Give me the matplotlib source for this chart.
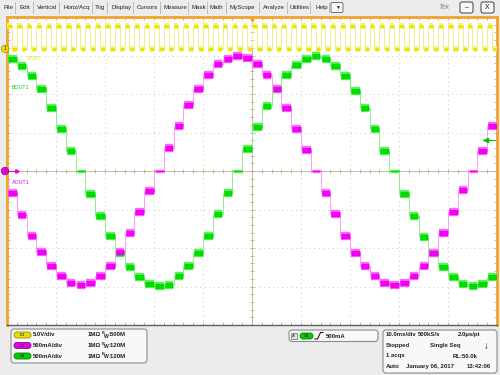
import numpy as np
import matplotlib.pyplot as plt
from matplotlib.patches import FancyBboxPatch

plt.rcParams['font.family'] = ['Liberation Sans', 'DejaVu Sans']

"""
Tek scope screen: STEP clock on CH1 and the two stepped sine outputs
(AOUT1 on CH2, BOUT1 on CH4), single sequence, 10 ms/div
"""

# scope settings
ms_per_div = 10.0
v_per_div = 5.0
ma_per_div = 500.0
ch1_offset_div = 3.17   # CH1 ground marker sits above the centre line
trig_level_div = 0.8
t_first_ms = -50.0
step_ms = 2.0

# CH1 STEP clock in volts, one entry per half step (high, low, ...)
step_v = [3, 0, 3, 0, 3, 0, 3, 0, 3, 0, 3, 0, 3, 0, 3, 0, 3, 0, 3, 0,
          3, 0, 3, 0, 3, 0, 3, 0, 3, 0, 3, 0, 3, 0, 3, 0, 3, 0, 3, 0,
          3, 0, 3, 0, 3, 0, 3, 0, 3, 0, 3, 0, 3, 0, 3, 0, 3, 0, 3, 0,
          3, 0, 3, 0, 3, 0, 3, 0, 3, 0, 3, 0, 3, 0, 3, 0, 3, 0, 3, 0,
          3, 0, 3, 0, 3, 0, 3, 0, 3, 0, 3, 0, 3, 0, 3, 0, 3, 0, 3, 0]

# CH4 BOUT1 in mA, one entry per 2 ms step
bout1_ma = [1450, 1370, 1240, 1070, 820, 550, 260, 0, -300, -580,
            -850, -1070, -1250, -1380, -1470, -1490, -1480, -1370, -1240, -1070,
            -840, -560, -280, 0, 290, 570, 840, 1060, 1250, 1380,
            1460, 1490, 1460, 1360, 1240, 1040, 820, 540, 260, 0,
            -300, -580, -860, -1060, -1250, -1380, -1470, -1490, -1470, -1380]

# CH2 AOUT1 in mA, one entry per 2 ms step
aout1_ma = [-290, -570, -840, -1050, -1240, -1360, -1460, -1480, -1460, -1360,
            -1230, -1050, -810, -530, -260, 0, 300, 580, 860, 1070,
            1250, 1390, 1460, 1500, 1470, 1390, 1250, 1060, 820, 540,
            270, 0, -290, -560, -850, -1060, -1230, -1370, -1460, -1480,
            -1460, -1360, -1230, -1060, -810, -530, -250, 0, 260, 580]

menu_items = ['File', 'Edit', 'Vertical', 'Horiz/Acq', 'Trig', 'Display', 'Cursors',
              'Measure', 'Mask', 'Math', 'MyScope', 'Analyze', 'Utilities', 'Help']
menu_x = [4, 20, 37, 63, 95, 111, 137, 164, 192, 210, 230, 263, 290, 315]


def draw_steps(ax, values, width_ms, scale, offset, core, halo, edge, thick, thin):
    levels = np.asarray(values, dtype=float) / scale + offset
    x = (t_first_ms + width_ms * np.arange(len(levels) + 1)) / ms_per_div
    y = np.append(levels, levels[-1])
    ax.step(x, y, where='post', color=edge, lw=0.7, zorder=3)

    lws = [thin if v == 0 else thick for v in values]
    pad = 0.1 * (x[1] - x[0])
    ax.hlines(levels, x[:-1] + pad, x[1:] - pad * 0.3, colors=halo,
              linewidths=[w + 1.0 for w in lws], zorder=4)
    ax.hlines(levels, x[:-1] + pad, x[1:] - pad * 0.3, colors=core,
              linewidths=[max(w - 1.2, 0.8) for w in lws], zorder=5)


fig = plt.figure(figsize=(5, 3.75), dpi=100, facecolor='#ececec')

# ---- window chrome, drawn in pixel coordinates
bg = fig.add_axes([0, 0, 1, 1], zorder=0)
bg.set_xlim(0, 500)
bg.set_ylim(375, 0)
bg.axis('off')

ui_font = dict(fontsize=4.4, color='#202020', va='center')
for name, x in zip(menu_items, menu_x):
    bg.text(x, 7.5, name, **ui_font)
for sx in [15, 33, 59, 92, 107, 133, 160, 188, 207, 226, 259, 287, 310, 329]:
    bg.plot([sx, sx], [2, 13], color='#b4b4b4', lw=0.6)
bg.add_patch(FancyBboxPatch((331, 2.5), 12, 10, boxstyle='round,pad=0,rounding_size=1.5',
                            fc='#f6f6f6', ec='#606060', lw=0.6))
bg.text(337, 7.8, '\u25bc', fontsize=3.5, ha='center', va='center', color='#202020')
bg.text(438, 7.5, 'Tek', fontsize=5, color='#8a8a8a', va='center', style='italic')
for bx, label in [(460, '\u2013'), (481, 'X')]:
    bg.add_patch(FancyBboxPatch((bx, 2), 13, 11, boxstyle='round,pad=0,rounding_size=2',
                                fc='#f8f8f8', ec='#404040', lw=0.7))
    bg.text(bx + 6.5, 7.8, label, fontsize=5, ha='center', va='center', color='#202020')

# channel readout box
box_kw = dict(boxstyle='round,pad=0,rounding_size=3', fc='#f8f8f8', ec='#8c8c8c', lw=0.8)
bg.add_patch(FancyBboxPatch((11, 329), 136, 34, **box_kw))
bg.add_patch(FancyBboxPatch((289, 330), 89, 11.5, **box_kw))
bg.add_patch(FancyBboxPatch((383, 330), 114, 43, **box_kw))

rows = [('C1', '#e6e000', '#9a9000', '5.0V/div', ':500M', 335),
        ('C2', '#e000e0', '#900090', '500mA/div', ':120M', 345.5),
        ('C4', '#00d000', '#008000', '500mA/div', ':120M', 356)]
bold = dict(fontsize=4.3, color='#202020', va='center', fontweight='bold')
for tag, fc, ec, scale_txt, bw_txt, ry in rows:
    bg.add_patch(FancyBboxPatch((14, ry - 3), 17, 6, boxstyle='round,pad=0,rounding_size=3',
                                fc=fc, ec=ec, lw=0.6))
    bg.text(22.5, ry + 0.2, tag, fontsize=3, ha='center', va='center', color='#303030',
            fontweight='bold')
    bg.text(33, ry, scale_txt, **bold)
    bg.text(87.5, ry, '1M\u03a9', **bold)
    bg.text(101.5, ry - 1.8, 'B', fontsize=2.8, color='#202020', va='center', fontweight='bold')
    bg.text(103.5, ry + 1.0, 'W', fontsize=3.6, color='#202020', va='center', fontweight='bold')
    bg.text(108.5, ry, bw_txt, **bold)

# trigger box
bg.add_patch(FancyBboxPatch((291, 332.5), 6, 6.5, boxstyle='square,pad=0',
                            fc='#e0e0e0', ec='#707070', lw=0.5))
bg.text(294, 336, "A'", fontsize=3, ha='center', va='center', color='#202020')
bg.add_patch(FancyBboxPatch((300, 333), 13, 6, boxstyle='round,pad=0,rounding_size=3',
                            fc='#00d000', ec='#008000', lw=0.6))
bg.text(306.5, 336.2, 'C4', fontsize=3, ha='center', va='center', color='#303030',
        fontweight='bold')
bg.plot([315, 317.5, 320.5, 323], [339, 339, 332.5, 332.5], color='#202020', lw=0.8)
bg.text(326, 336, '500mA', **bold)

# timebase / acquisition box
acq_rows = [(334.5, [(386, '10.0ms/div'), (418, '500kS/s'), (458, '2.0\u00b5s/pt')]),
            (345.5, [(386, 'Stopped'), (430, 'Single Seq')]),
            (356, [(386, '1 acqs'), (453, 'RL:50.0k')]),
            (366.5, [(386, 'Auto'), (406, 'January 06, 2017'), (467, '13:42:06')])]
for ry, items in acq_rows:
    for tx, txt in items:
        bg.text(tx, ry, txt, **bold)
bg.text(486, 346, '\u2193', fontsize=7, ha='center', va='center', color='#202020',
        fontweight='bold')

# ---- graticule
ax = fig.add_axes([7 / 500, 1 - 325 / 375, 490 / 500, 308 / 375], zorder=1)
ax.set_facecolor('white')
ax.set_xlim(-5, 5)
ax.set_ylim(-4, 4)
ax.set_xticks(np.arange(-5, 6))
ax.set_yticks(np.arange(-4, 5))
ax.set_xticks(np.arange(-5, 5.01, 0.2), minor=True)
ax.set_yticks(np.arange(-4, 4.01, 0.2), minor=True)
ax.tick_params(which='both', direction='in', length=2.5, width=0.5, color='#9a9a9a',
               labelleft=False, labelbottom=False, top=True, right=True)
ax.grid(True, color='#b4b4b4', lw=0.6, linestyle=(0, (1, 4.5)))
for side in ['left', 'top', 'right']:
    ax.spines[side].set_color('#f2a22a')
    ax.spines[side].set_linewidth(2.0)
ax.spines['bottom'].set_color('#606060')
ax.spines['bottom'].set_linewidth(1.0)

# centre crosshair with its small ticks
ax.axhline(0, color='#c9bc9c', lw=0.7, zorder=1)
ax.axvline(0, color='#c9bc9c', lw=0.7, zorder=1)
minor_x = np.arange(-5, 5.01, 0.2)
minor_y = np.arange(-4, 4.01, 0.2)
ax.plot(minor_x, np.zeros_like(minor_x), ls='none', marker='|', ms=2.5, mew=0.5,
        color='#b0a27e', zorder=1)
ax.plot(np.zeros_like(minor_y), minor_y, ls='none', marker='_', ms=2.5, mew=0.5,
        color='#b0a27e', zorder=1)

# ---- traces
draw_steps(ax, step_v, step_ms / 2, v_per_div, ch1_offset_div,
           '#e8e400', '#f6f27a', '#f2ee8a', 3.2, 3.2)
draw_steps(ax, bout1_ma, step_ms, ma_per_div, 0.0,
           '#00dc00', '#5cf05c', '#8cf08c', 5.0, 1.4)
draw_steps(ax, aout1_ma, step_ms, ma_per_div, 0.0,
           '#f000f0', '#ff66ff', '#ff99ff', 5.0, 1.4)

# trace labels
ax.text(-4.59, 2.91, 'STEP', fontsize=3.8, color='#e6e000', va='center', zorder=6)
ax.text(-4.9, 2.16, 'BOUT1', fontsize=3.8, color='#10c010', va='center', zorder=6)
ax.text(-4.9, -0.31, 'AOUT1', fontsize=3.8, color='#e000e0', va='center', zorder=6)

# channel ground markers, trigger position and trigger level
ax.text(-5.04, ch1_offset_div, '1', fontsize=3.6, ha='center', va='center', color='#303030',
        clip_on=False, zorder=7,
        bbox=dict(boxstyle='circle,pad=0.25', fc='#f0e000', ec='#b09000', lw=0.5))
ax.plot([-5.0, -4.8], [0, 0], color='#e000e0', lw=0.8, clip_on=False, zorder=6)
ax.plot(-4.8, 0, marker='>', ms=2.5, color='#e000e0', clip_on=False, zorder=6)
ax.text(-5.04, 0, '2', fontsize=3.6, ha='center', va='center', color='#303030',
        clip_on=False, zorder=7,
        bbox=dict(boxstyle='circle,pad=0.25', fc='#f000f0', ec='#900090', lw=0.5))
ax.plot([4.72, 4.96], [trig_level_div, trig_level_div], color='#00c000', lw=0.8, zorder=6)
ax.plot(4.78, trig_level_div, marker='<', ms=3, color='#00c000', zorder=6)
ax.plot(0, 3.96, marker='v', ms=3.5, color='#f2a22a', clip_on=False, zorder=7)

fig.savefig('out.png', dpi=100, facecolor=fig.get_facecolor())
